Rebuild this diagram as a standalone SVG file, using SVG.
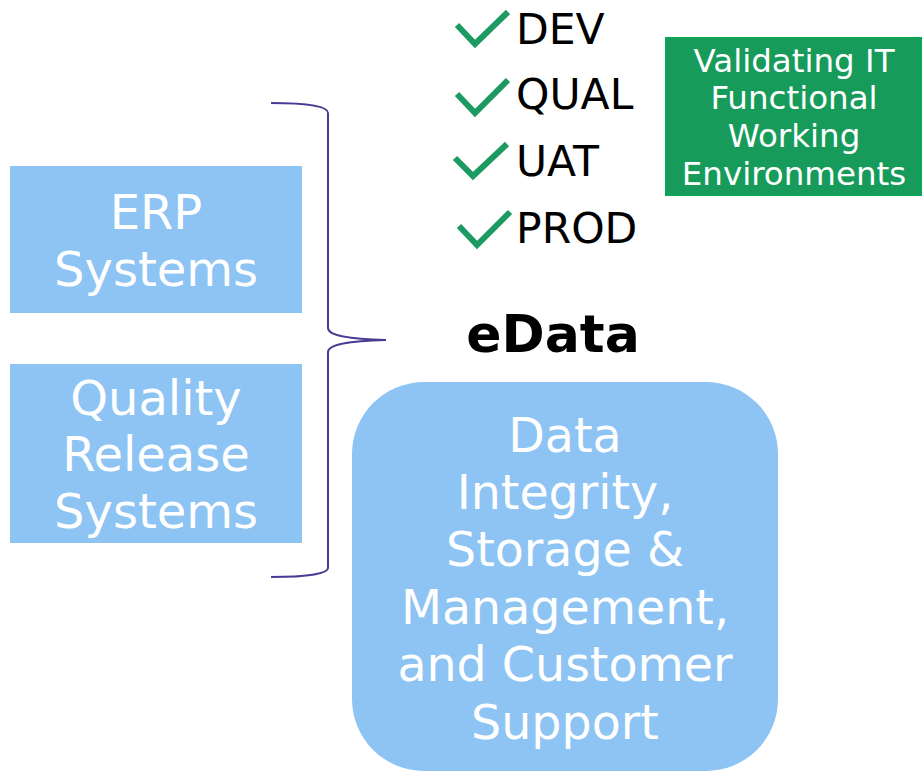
<svg xmlns="http://www.w3.org/2000/svg" width="922" height="771" viewBox="0 0 922 771">
<style>
.box{fill:#8DC4F3}
.wt{fill:#fff;font-family:"DejaVu Sans",Verdana,sans-serif;text-anchor:middle}
.lbl{fill:#000;font-family:"DejaVu Sans",Verdana,sans-serif;font-size:42.5px}
.chk{fill:none;stroke:#1C9A62;stroke-width:6;stroke-linecap:butt;stroke-linejoin:miter}
</style>
<rect width="922" height="771" fill="#fff"/>
<g id="erp">
<rect class="box" x="10" y="166" width="292" height="147"/>
<text class="wt" font-size="48" x="156" y="229">ERP</text>
<text class="wt" font-size="48" x="156" y="286">Systems</text>
</g>
<g id="quality">
<rect class="box" x="10" y="364" width="292" height="179"/>
<text class="wt" font-size="48" x="156" y="415">Quality</text>
<text class="wt" font-size="48" x="156" y="471">Release</text>
<text class="wt" font-size="48" x="156" y="528">Systems</text>
</g>
<g id="connectors">
<path d="M271,103 C305,103 328,106 328,113 L328,328 C328,336 350,339 386,340 C350,341 328,344 328,352 L328,568 C328,574 305,577 271,577" fill="none" stroke="#4B3A93" stroke-width="2"/>
</g>
<g id="edata">
<text x="553" y="352" font-family="'DejaVu Sans',Verdana,sans-serif" font-weight="bold" font-size="52" text-anchor="middle" fill="#000">eData</text>
</g>
<g id="data">
<rect class="box" x="352" y="382" width="426" height="389" rx="72" ry="72"/>
<text class="wt" font-size="47.5" x="565" y="452">Data</text>
<text class="wt" font-size="47.5" x="565" y="509">Integrity,</text>
<text class="wt" font-size="47.5" x="565" y="566">Storage &amp;</text>
<text class="wt" font-size="47.5" x="565" y="624">Management,</text>
<text class="wt" font-size="47.5" x="565" y="681">and Customer</text>
<text class="wt" font-size="47.5" x="565" y="739">Support</text>
</g>
<g id="envs">
<path class="chk" d="M457,25 L475,44 L508,12"/>
<text class="lbl" x="516" y="44">DEV</text>
<path class="chk" d="M457,94 L475,113 L508,80"/>
<text class="lbl" x="516" y="109">QUAL</text>
<path class="chk" d="M455,158 L473,176 L507,144"/>
<text class="lbl" x="516" y="176">UAT</text>
<path class="chk" d="M459,226 L477,245 L510,212"/>
<text class="lbl" x="516" y="243">PROD</text>
</g>
<g id="validating">
<rect x="665.5" y="37.5" width="256" height="158" fill="#169B5B" stroke="#00B050" stroke-width="1"/>
<text class="wt" font-size="32.5" x="794" y="72">Validating IT</text>
<text class="wt" font-size="32.5" x="794" y="109">Functional</text>
<text class="wt" font-size="32.5" x="794" y="147">Working</text>
<text class="wt" font-size="32.5" x="794" y="185">Environments</text>
</g>
</svg>
